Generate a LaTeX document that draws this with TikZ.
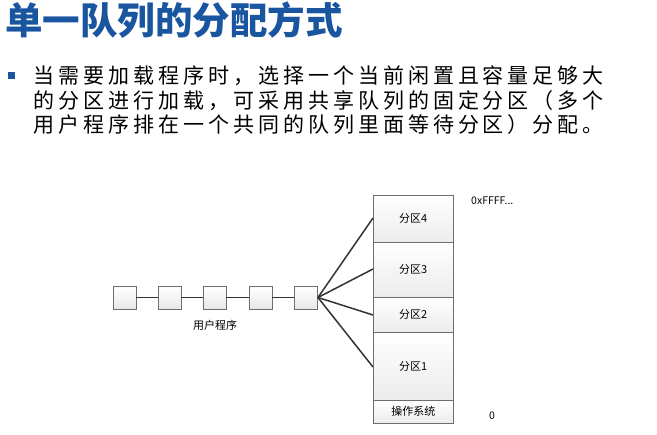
\documentclass[tikz,border=0pt]{standalone}
\usepackage{fontspec}
\setmainfont{Noto Sans CJK SC}
\definecolor{titleblue}{HTML}{1A56A0}
\definecolor{edgegray}{HTML}{6E6E6E}
\definecolor{linegray}{HTML}{333333}
\tikzset{
  qbox/.style={draw=edgegray, line width=0.9pt, top color=white, bottom color=gray!18, minimum width=23pt, minimum height=23pt, inner sep=0pt},
  memcell/.style={draw=edgegray, line width=0.6pt, top color=white, bottom color=gray!15, minimum width=80pt, inner sep=0pt, font=\fontsize{11}{12}\selectfont},
  conn/.style={draw=linegray, line width=1.8pt},
  fan/.style={draw=linegray, line width=1.5pt},
  bodyline/.style={anchor=base west, inner sep=0pt, font=\fontsize{21}{24}\selectfont\addfontfeature{LetterSpace=19}}
}
\begin{document}
\begin{tikzpicture}[x=1pt,y=1pt]
\useasboundingbox (0,0) rectangle (657,-435);
% title
\node[anchor=west, text=titleblue, font=\fontsize{37.5}{40}\selectfont\bfseries, inner sep=0pt] (title) at (5,-20) {单一队列的分配方式};
% bullet
\node[fill=titleblue, minimum size=7pt, inner sep=0pt] (bullet) at (11,-75.5) {};
\node[bodyline] (l1) at (33,-84) {当需要加载程序时，选择一个当前闲置且容量足够大};
\node[bodyline] (l2) at (33,-108.5) {的分区进行加载，可采用共享队列的固定分区（多个};
\node[bodyline] (l3) at (33,-133) {用户程序排在一个共同的队列里面等待分区）分配。};
% memory column
\node[memcell, anchor=north west, minimum height=47pt] (p4) at (373,-195) {分区4};
\node[memcell, anchor=north west, minimum height=55pt] (p3) at (373,-242) {分区3};
\node[memcell, anchor=north west, minimum height=35pt] (p2) at (373,-297) {分区2};
\node[memcell, anchor=north west, minimum height=68pt] (p1) at (373,-332) {分区1};
\node[memcell, anchor=north west, minimum height=23pt] (os) at (373,-400) {操作系统};
\node[anchor=west, inner sep=0pt, font=\fontsize{10.5}{12}\selectfont] (top) at (471,-201) {0xFFFF...};
\node[inner sep=0pt, font=\fontsize{10.5}{12}\selectfont] (zero) at (492,-416) {0};
% queue
\node[qbox] (q1) at (124.5,-297.5) {};
\node[qbox] (q2) at (169.5,-297.5) {};
\node[qbox] (q3) at (214.5,-297.5) {};
\node[qbox] (q4) at (260.5,-297.5) {};
\node[qbox] (q5) at (306,-297.5) {};
\node[font=\fontsize{11}{12}\selectfont, inner sep=0pt] (qlabel) at (215,-325) {用户程序};
\draw[conn] (q1) -- (q2);
\draw[conn] (q2) -- (q3);
\draw[conn] (q3) -- (q4);
\draw[conn] (q4) -- (q5);
\coordinate (e4) at (373,-218);
\coordinate (e3) at (373,-269);
\coordinate (e2) at (373,-315);
\coordinate (e1) at (373,-367);
\draw[fan] (q5.east) -- (e4);
\draw[fan] (q5.east) -- (e3);
\draw[fan] (q5.east) -- (e2);
\draw[fan] (q5.east) -- (e1);
\end{tikzpicture}
\end{document}
